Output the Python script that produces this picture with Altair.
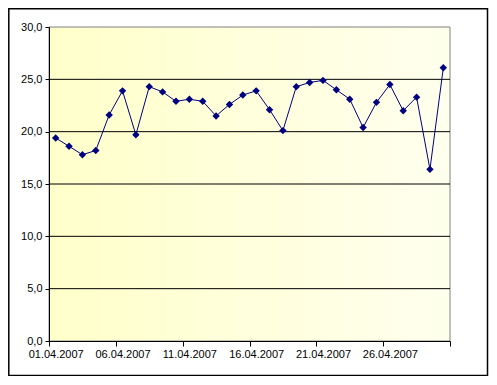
import altair as alt
import pandas as pd

days = list(range(1, 31))
dates = [f"{d:02d}.04.2007" for d in days]
values = [19.4, 18.6, 17.8, 18.2, 21.6, 23.9, 19.7, 24.3, 23.8, 22.9,
          23.1, 22.9, 21.5, 22.6, 23.5, 23.9, 22.1, 20.1, 24.3, 24.7,
          24.9, 24.0, 23.1, 20.4, 22.8, 24.5, 22.0, 23.3, 16.4, 26.1]
x_ticks = [0, 5, 10, 15, 20, 25, 30]
x_tick_labels = ["01.04.2007", "06.04.2007", "11.04.2007", "16.04.2007",
                 "21.04.2007", "26.04.2007", ""]
y_ticks = [0, 5, 10, 15, 20, 25, 30]
grid_values = [5, 10, 15, 20, 25]

df = pd.DataFrame({"day": days, "date": dates, "value": values})

W, H = 401, 314
FONT = "Liberation Sans"
NAVY = "#000080"

label_arr = "[" + ",".join(f"'{s}'" for s in x_tick_labels) + "]"

x_scale = alt.Scale(domain=[0, 30], nice=False, zero=False)
y_scale = alt.Scale(domain=[0, 30], nice=False)

x_axis = alt.Axis(
    values=x_ticks,
    labelExpr=f"{label_arr}[datum.value / 5]",
    labelOffset=W / 30 / 2,
    title=None,
    grid=False,
    domainColor="black",
    tickColor="black",
    tickSize=5,
    labelFont=FONT,
    labelFontSize=11,
    labelColor="black",
    labelPadding=2,
    labelFlush=False,
    labelOverlap=False,
    zindex=1,
)
y_axis = alt.Axis(
    values=y_ticks,
    labelExpr="replace(format(datum.value, '.1f'), '.', ',')",
    title=None,
    grid=False,
    domainColor="black",
    tickColor="black",
    tickSize=4,
    labelFont=FONT,
    labelFontSize=11,
    labelColor="black",
    labelPadding=3,
    zindex=1,
)

bg = alt.Chart(pd.DataFrame({"a": [0]})).mark_rect(
    fill=alt.Gradient(
        gradient="linear",
        stops=[alt.GradientStop(color="#FFFFCA", offset=0),
               alt.GradientStop(color="#FFFFEE", offset=1)],
        x1=0, x2=1, y1=0, y2=0,
    ),
    stroke="#808080",
    strokeWidth=1,
).encode(x=alt.value(0), x2=alt.value(W), y=alt.value(0), y2=alt.value(H))

grid = alt.Chart(pd.DataFrame({"g": grid_values})).mark_rule(
    color="black", strokeWidth=1
).encode(y=alt.Y("g:Q", scale=y_scale, axis=y_axis))

base = alt.Chart(df).transform_calculate(pos="datum.day - 0.5")

line = base.mark_line(color=NAVY, strokeWidth=1).encode(
    x=alt.X("pos:Q", scale=x_scale, axis=x_axis),
    y=alt.Y("value:Q", scale=y_scale, axis=y_axis),
)
points = base.mark_point(shape="diamond", filled=True, color=NAVY, size=55, opacity=1).encode(
    x=alt.X("pos:Q", scale=x_scale), y=alt.Y("value:Q", scale=y_scale)
)

frame = alt.Chart(pd.DataFrame({"a": [0]})).mark_rect(
    fill=None, stroke="black", strokeWidth=1.5
).encode(
    x=alt.value(-40.2), x2=alt.value(438.5), y=alt.value(-18.2), y2=alt.value(348.5)
)

chart = alt.layer(bg, grid, line, points, frame).properties(
    width=W,
    height=H,
    autosize=alt.AutoSizeParams(type="none"),
    padding={"left": 41, "top": 19, "right": 39, "bottom": 35},
    background="white",
).configure_view(stroke=None)

chart.save("out.html", embed_options={"renderer": "svg", "actions": False})
